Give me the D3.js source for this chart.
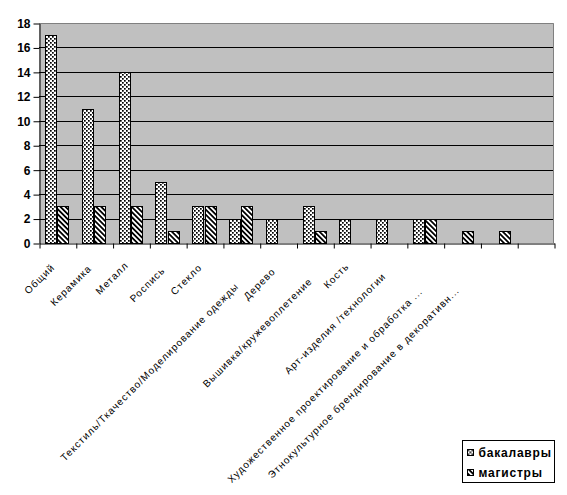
<!DOCTYPE html>
<html>
<head>
<meta charset="utf-8">
<script src="https://cdn.jsdelivr.net/npm/d3@7"></script>
<style>
  html, body { margin: 0; padding: 0; background: #fff; }
  svg { display: block; }
  text { font-family: Arial, "Liberation Sans", sans-serif; }
</style>
</head>
<body>
<svg id="chart" width="567" height="495"></svg>
<script>
// ---- data ----
const categories = [
  "Общий", "Керамика", "Металл", "Роспись", "Стекло",
  "Текстиль/Ткачество/Моделирование одежды", "Дерево",
  "Вышивка/кружевоплетение", "Кость", "Арт-изделия /технологии",
  "Художественное проектирование и обработка ...",
  "Этнокультурное брендирование в декоративн...", "", ""
];
const bachelors = [17, 11, 14, 5, 3, 2, 2, 3, 2, 2, 2, 0, 0, null];
const masters   = [3, 3, 3, 1, 3, 3, 0, 1, 0, 0, 2, 1, 1, null];
const seriesNames = ["бакалавры", "магистры"];
const yTicks = [0, 2, 4, 6, 8, 10, 12, 14, 16, 18];

// ---- layout ----
const plot = { left: 39, right: 554, top: 23, bottom: 243 };
// vertical drop of each rotated category label (layout, px)
const labelDrop = [0, 1, -2, 3, 0, 19, 4, 14, -1, 9, 24, 23, 0, 0];

const svg = d3.select("#chart");

// patterns
const defs = svg.append("defs");
const pDots = defs.append("pattern").attr("id", "dots")
  .attr("patternUnits", "userSpaceOnUse").attr("width", 4).attr("height", 4);
pDots.append("rect").attr("width", 4).attr("height", 4).attr("fill", "#fff");
pDots.append("rect").attr("x", 0).attr("y", 0).attr("width", 1.7).attr("height", 1.7).attr("fill", "#000");
pDots.append("rect").attr("x", 2).attr("y", 2).attr("width", 1.7).attr("height", 1.7).attr("fill", "#000");

const pStripe = defs.append("pattern").attr("id", "stripes")
  .attr("patternUnits", "userSpaceOnUse").attr("width", 3.6).attr("height", 3.6)
  .attr("patternTransform", "rotate(-45)");
pStripe.append("rect").attr("width", 3.6).attr("height", 3.6).attr("fill", "#fff");
pStripe.append("rect").attr("width", 1.8).attr("height", 3.6).attr("fill", "#000");

const fills = ["url(#dots)", "url(#stripes)"];

// scales
const idx = d3.range(categories.length);
const x = d3.scaleBand().domain(idx).range([plot.left, plot.right])
  .paddingInner(1 / 3).paddingOuter(1 / 6);
const xs = d3.scaleBand().domain([0, 1]).range([0, x.bandwidth()]);
const xEdge = d3.scaleLinear().domain([0, categories.length]).range([plot.left, plot.right]);
const y = d3.scaleLinear().domain([0, 18]).range([plot.bottom, plot.top]);

// plot area
svg.append("rect")
  .attr("x", plot.left).attr("y", plot.top)
  .attr("width", plot.right - plot.left).attr("height", plot.bottom - plot.top)
  .attr("fill", "#C0C0C0");

// gridlines
svg.append("g").selectAll("line").data(yTicks.filter(v => v > 0 && v < 18)).join("line")
  .attr("x1", plot.left).attr("x2", plot.right)
  .attr("y1", d => Math.round(y(d)) + 0.5).attr("y2", d => Math.round(y(d)) + 0.5)
  .attr("stroke", "#000").attr("stroke-width", 1);

// border top/right (grey)
svg.append("path")
  .attr("d", `M${plot.left},${plot.top + 0.5}H${plot.right - 0.5}V${plot.bottom}`)
  .attr("fill", "none").attr("stroke", "#808080").attr("stroke-width", 1);

// bars
const series = [bachelors, masters];
series.forEach((vals, s) => {
  svg.append("g").selectAll("rect")
    .data(idx.filter(i => vals[i] != null && vals[i] > 0))
    .join("rect")
    .attr("x", i => Math.round(x(i) + xs(s)) + 0.5)
    .attr("y", i => Math.round(y(vals[i])) + 0.5)
    .attr("width", Math.round(xs.bandwidth()) - 1)
    .attr("height", i => Math.round(y(0)) - Math.round(y(vals[i])))
    .attr("fill", fills[s])
    .attr("stroke", "#000").attr("stroke-width", 1);
});

// y axis
const yAxis = svg.append("g")
  .attr("transform", `translate(${plot.left + 0.5},0.5)`)
  .call(d3.axisLeft(y).tickValues(yTicks).tickSize(6).tickSizeOuter(0).tickPadding(3));
yAxis.select(".domain").attr("stroke", "#000");
yAxis.selectAll(".tick line").attr("stroke", "#000");
yAxis.selectAll(".tick text")
  .attr("font-size", "12px").attr("font-weight", "bold").attr("fill", "#000")
  .attr("font-family", "Arial, 'Liberation Sans', sans-serif");

// x axis
const xAxis = svg.append("g")
  .attr("transform", `translate(0.5,${Math.round(plot.bottom) + 0.5})`)
  .call(d3.axisBottom(xEdge).tickValues(d3.range(categories.length + 1)).tickFormat("")
    .tickSize(5).tickSizeOuter(0));
xAxis.select(".domain").attr("stroke", "#000");
xAxis.selectAll(".tick line").attr("stroke", "#000");

// category labels
svg.append("g").selectAll("text").data(idx).join("text")
  .attr("transform", i => `translate(${x(i) + x.bandwidth() / 2 - 2},${plot.bottom + 25 + labelDrop[i]}) rotate(-45)`)
  .attr("text-anchor", "end")
  .attr("font-size", "10px")
  .attr("letter-spacing", "1px")
  .attr("fill", "#000")
  .text(i => categories[i]);

// legend
const lg = svg.append("g").attr("transform", "translate(462.5,440.5)");
lg.append("rect").attr("width", 92).attr("height", 42)
  .attr("fill", "#fff").attr("stroke", "#000").attr("stroke-width", 1);
seriesNames.forEach((n, s) => {
  const row = lg.append("g").attr("transform", `translate(5,${9 + s * 20})`);
  row.append("rect").attr("width", 6).attr("height", 6)
    .attr("fill", fills[s]).attr("stroke", "#000").attr("stroke-width", 1);
  row.append("text").attr("x", 11).attr("y", 3).attr("dy", "0.36em")
    .attr("font-size", "12px").attr("font-weight", "bold")
    .attr("letter-spacing", "0.8px").attr("fill", "#000").text(n);
});
</script>
</body>
</html>
